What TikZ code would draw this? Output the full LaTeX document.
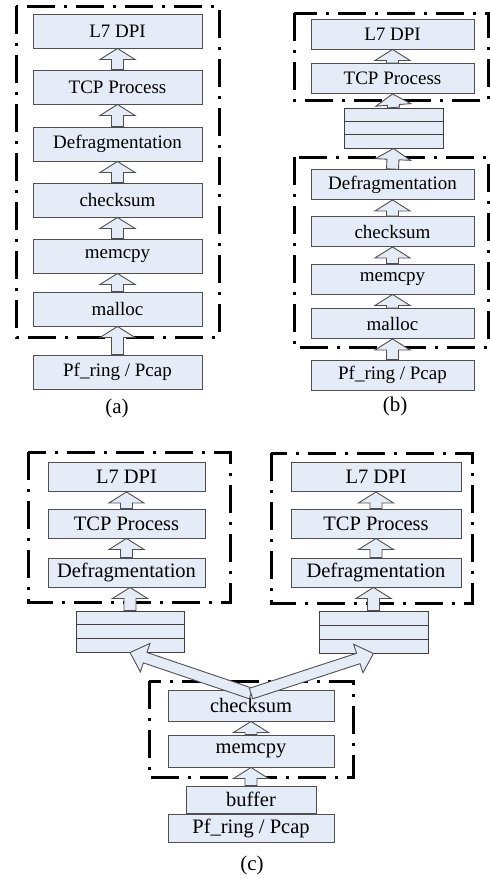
\documentclass[tikz,border=0pt]{standalone}
\usepackage{fontspec}
\setmainfont{Liberation Serif}
\usetikzlibrary{calc}

\definecolor{boxfill}{RGB}{229,235,247}
\definecolor{boxline}{RGB}{80,80,80}

\tikzset{
  box/.style={draw=boxline, fill=boxfill, line width=0.9pt, inner sep=0pt,
              font=\fontsize{19}{21}\selectfont},
  bigtext/.style={font=\fontsize{20.5}{22}\selectfont},
  queue/.style={draw=black!75, fill=boxfill, line width=1pt, inner sep=0pt,
    path picture={
      \draw[black!75, line width=1pt]
        ($(path picture bounding box.north west)!1/3!(path picture bounding box.south west)$) --
        ($(path picture bounding box.north east)!1/3!(path picture bounding box.south east)$)
        ($(path picture bounding box.north west)!2/3!(path picture bounding box.south west)$) --
        ($(path picture bounding box.north east)!2/3!(path picture bounding box.south east)$);
    }},
  group/.style={draw=black, line width=3pt, dash pattern=on 28pt off 9pt on 3pt off 9pt},
  barrow/.style={draw=boxline, fill=boxfill, line width=0.9pt, line join=miter},
  caption/.style={inner sep=0pt, font=\fontsize{21}{23}\selectfont}
}

% hollow block arrow from #1 to #2 (shaft half width, head half width, head length)
\def\bsw{6pt}\def\bhw{17.5pt}\def\bhl{11pt}
\newcommand\blockarrow[2]{%
  \path[barrow] let \p1=(#1), \p2=(#2),
      \n1={atan2(\y2-\y1,\x2-\x1)}, \n2={veclen(\x2-\x1,\y2-\y1)} in
    {[shift={(\p1)}, rotate=\n1]
      (0pt,-\bsw) -- (\n2-\bhl,-\bsw) -- (\n2-\bhl,-\bhw) -- (\n2,0pt)
      -- (\n2-\bhl,\bhw) -- (\n2-\bhl,\bsw) -- (0pt,\bsw) -- cycle};}

\begin{document}
\begin{tikzpicture}[x=1pt, y=-1pt]
\useasboundingbox (0,0) rectangle (490,879);

% ---------- (a) single thread ----------
\draw[group] (16,6) rectangle (219,337);
\begin{scope}[every node/.append style={minimum width=169pt, minimum height=34pt}]
  \node[box] (a1) at (117.5,31)  {L7 DPI};
  \node[box] (a2) at (117.5,87)  {TCP Process};
  \node[box] (a3) at (117.5,144) {Defragmentation};
  \node[box] (a4) at (117.5,200) {checksum};
  \node[box] (a5) at (117.5,256) {memcpy};
  \node[box] (a6) at (117.5,309) {malloc};
  \node[box] (a7) at (117.5,372) {Pf\_ring / Pcap};
\end{scope}
\node[caption] (capa) at (117,408) {(a)};

% ---------- (b) two stages with a queue ----------
\draw[group] (294,13) rectangle (488,100);
\draw[group] (294,157) rectangle (488,347);
\begin{scope}[every node/.append style={minimum width=163pt, minimum height=30pt}]
  \node[box] (b1) at (392.5,34)  {L7 DPI};
  \node[box] (b2) at (392.5,78.5) {TCP Process};
  \node[box] (b3) at (392.5,184.5) {Defragmentation};
  \node[box] (b4) at (392.5,231.5) {checksum};
  \node[box] (b5) at (392.5,279) {memcpy};
  \node[box] (b6) at (392.5,323.5) {malloc};
  \node[box] (b7) at (392.5,375) {Pf\_ring / Pcap};
\end{scope}
\node[queue, minimum width=99pt, minimum height=40pt] (bs) at (393.5,128) {};
\node[caption] (capb) at (395,406) {(b)};

% ---------- (c) shared capture, two analysis pipelines ----------
\draw[group] (28,452) rectangle (230,602);
\draw[group] (271,453) rectangle (472,603);
\draw[group] (149,681) rectangle (353,777);
\begin{scope}[every node/.append style={minimum width=157pt, minimum height=29pt}]
  \node[box, bigtext] (cl1) at (126.5,477)   {L7 DPI};
  \node[box, bigtext] (cl2) at (126.5,523.5) {TCP Process};
  \node[box, bigtext] (cl3) at (126.5,572.5) {Defragmentation};
\end{scope}
\begin{scope}[every node/.append style={minimum width=170pt, minimum height=29pt}]
  \node[box, bigtext] (cr1) at (376,477)   {L7 DPI};
  \node[box, bigtext] (cr2) at (376,523.5) {TCP Process};
  \node[box, bigtext] (cr3) at (376,572.5) {Defragmentation};
\end{scope}
\node[queue, minimum width=108pt, minimum height=41pt] (cls) at (130,631.5) {};
\node[queue, minimum width=109pt, minimum height=42pt] (crs) at (373.5,632) {};
\begin{scope}[every node/.append style={minimum width=166pt}]
  \node[box, bigtext, minimum height=31pt] (cchk) at (251,705.5) {checksum};
  \node[box, bigtext, minimum height=32pt] (cmem) at (251,751)   {memcpy};
  \node[box, bigtext, minimum height=28pt] (cpf)  at (251,828)   {Pf\_ring / Pcap};
\end{scope}
\node[box, bigtext, minimum width=130pt, minimum height=27pt] (cbuf) at (251,799.5) {buffer};
\node[caption] (capc) at (252,865) {(c)};

% ---------- vertical block arrows ----------
\blockarrow{a7.north}{a6.south}
\blockarrow{a6.north}{a5.south}
\blockarrow{a5.north}{a4.south}
\blockarrow{a4.north}{a3.south}
\blockarrow{a3.north}{a2.south}
\blockarrow{a2.north}{a1.south}

\blockarrow{b7.north}{b6.south}
\blockarrow{b6.north}{b5.south}
\blockarrow{b5.north}{b4.south}
\blockarrow{b4.north}{b3.south}
\blockarrow{b3.north}{bs.south}
\blockarrow{bs.north}{b2.south}
\blockarrow{b2.north}{b1.south}

\blockarrow{cls.north}{cl3.south -| cls.north}
\blockarrow{cl3.north}{cl2.south}
\blockarrow{cl2.north}{cl1.south}
\blockarrow{crs.north}{cr3.south -| crs.north}
\blockarrow{cr3.north}{cr2.south}
\blockarrow{cr2.north}{cr1.south}
\blockarrow{cbuf.north}{cmem.south}
\blockarrow{cmem.north}{cchk.south}

% ---------- diverging arrows to the two queues ----------
\begin{scope}
  \def\bsw{5.5pt}\def\bhw{15pt}\def\bhl{16pt}
  \blockarrow{$(cchk.north)+(0pt,-4pt)$}{cls.south}
  \blockarrow{$(cchk.north)+(0pt,-4pt)$}{crs.south}
\end{scope}
\end{tikzpicture}
\end{document}
